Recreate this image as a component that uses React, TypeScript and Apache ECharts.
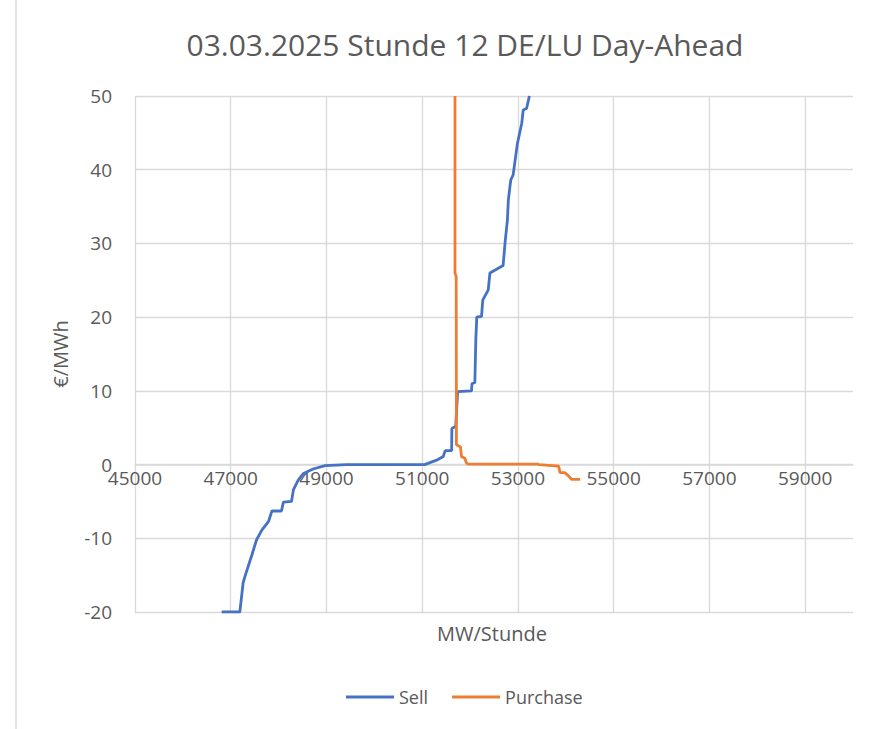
import React, { useEffect, useRef } from "react";
import * as echarts from "echarts";

const TITLE = "03.03.2025 Stunde 12 DE/LU Day-Ahead";
const X_NAME = "MW/Stunde";
const Y_NAME = "€/MWh";

// Sell curve: [MW, €/MWh]
const sellMW = [46810, 47190, 47260, 47330, 47440, 47540, 47650, 47790, 47860, 48060, 48100, 48270, 48310, 48410, 48520, 48720, 48970, 49420, 51050, 51300, 51440, 51480, 51615, 51620, 51665, 51700, 51740, 52030, 52040, 52100, 52120, 52140, 52240, 52265, 52380, 52415, 52690, 52730, 52780, 52800, 52850, 52900, 52990, 53080, 53110, 53180, 53240];
const sellPrice = [-20, -20, -16, -14.5, -12.3, -10.2, -8.9, -7.7, -6.3, -6.3, -5.1, -5.0, -3.4, -2.1, -1.2, -0.6, -0.15, 0, 0, 0.6, 1.1, 1.9, 1.9, 4.9, 5.05, 5.2, 9.9, 10.0, 11.0, 11.1, 16.9, 20.0, 20.1, 22.3, 23.7, 26.0, 27.0, 30.0, 33.2, 35.9, 38.6, 39.3, 43.6, 46.3, 48.1, 48.3, 50];

// Purchase curve: [MW, €/MWh]
const buyMW = [51685, 51685, 51710, 51715, 51800, 51820, 51890, 51925, 51960, 53420, 53440, 53850, 53880, 53980, 54050, 54120, 54300];
const buyPrice = [50, 26, 25.5, 2.7, 2.4, 1.1, 0.85, 0.2, 0.05, 0.05, 0, -0.2, -1.1, -1.1, -1.5, -2.0, -2.0];

const X_MIN = 45000;
const X_MAX = 60000;
const X_STEP = 2000;
const Y_MIN = -20;
const Y_MAX = 50;
const Y_STEP = 10;

const FONT = "'Open Sans', sans-serif";
const TEXT = "#595959";
const GRID = "#D9D9D9";

// plot box
const G_LEFT = 135;
const G_RIGHT = 41;
const G_TOP = 96;
const G_BOTTOM = 117;
const W = 894;
const H = 729;

export default function App() {
  const ref = useRef<HTMLDivElement>(null);
  useEffect(() => {
    if (!ref.current) return;
    const chart = echarts.init(ref.current, undefined, { renderer: "svg" });
    const sell = sellMW.map((x, i) => [x, sellPrice[i]]);
    const buy = buyMW.map((x, i) => [x, buyPrice[i]]);
    const plotH = H - G_TOP - G_BOTTOM;
    const zeroY = G_TOP + ((Y_MAX - 0) / (Y_MAX - Y_MIN)) * plotH;
    chart.setOption({
      animation: false,
      backgroundColor: "#ffffff",
      title: {
        text: TITLE,
        left: 460,
        top: 24,
        textAlign: "center",
        textStyle: { fontFamily: FONT, fontSize: 30, fontWeight: "normal", color: TEXT },
      },
      legend: {
        bottom: 18,
        left: 341,
        icon: "rect",
        itemWidth: 48,
        itemHeight: 3,
        itemGap: 24,
        textStyle: { fontFamily: FONT, fontSize: 18, color: TEXT },
        data: ["Sell", "Purchase"],
      },
      grid: [
        { left: G_LEFT, right: G_RIGHT, top: G_TOP, bottom: G_BOTTOM },
        { left: G_LEFT, right: G_RIGHT, top: G_TOP, bottom: H - zeroY },
      ],
      xAxis: [
        {
          type: "value",
          gridIndex: 0,
          min: X_MIN,
          max: X_MAX,
          interval: X_STEP,
          axisLine: { show: false },
          axisTick: { show: false },
          axisLabel: { show: false },
          splitLine: { show: true, showMaxLine: false, lineStyle: { color: GRID, width: 1.3 } },
        },
        {
          type: "value",
          gridIndex: 1,
          min: X_MIN,
          max: X_MAX,
          interval: X_STEP,
          axisLine: { show: true, lineStyle: { color: GRID, width: 1.5 } },
          axisTick: { show: false },
          splitLine: { show: false },
          axisLabel: {
            fontFamily: FONT,
            fontSize: 19,
            lineHeight: 14,
            color: TEXT,
            margin: 6,
            showMaxLabel: false,
            formatter: (v: number) => String(v),
          },
        },
      ],
      yAxis: [
        {
          type: "value",
          gridIndex: 0,
          min: Y_MIN,
          max: Y_MAX,
          interval: Y_STEP,
          name: Y_NAME,
          nameLocation: "middle",
          nameGap: 65,
          nameRotate: 90,
          nameTextStyle: { fontFamily: FONT, fontSize: 20, color: TEXT },
          axisLine: { show: false },
          axisTick: { show: false },
          axisLabel: { fontFamily: FONT, fontSize: 19, lineHeight: 12, color: TEXT, margin: 23 },
          splitLine: { show: true, lineStyle: { color: GRID, width: 1.3 } },
        },
        {
          type: "value",
          gridIndex: 1,
          min: 0,
          max: Y_MAX,
          show: false,
        },
      ],
      graphic: [
        {
          type: "text",
          x: 492,
          y: 633,
          style: {
            text: X_NAME,
            fill: TEXT,
            font: `20px ${FONT}`,
            align: "center",
            verticalAlign: "middle",
          },
        },
        {
          type: "line",
          shape: { x1: 16, y1: 0, x2: 16, y2: H },
          style: { stroke: GRID, lineWidth: 1.5 },
        },
      ],
      series: [
        {
          name: "Sell",
          type: "line",
          xAxisIndex: 0,
          yAxisIndex: 0,
          data: sell,
          symbol: "none",
          showSymbol: false,
          clip: true,
          lineStyle: { color: "#4472C4", width: 2.8 },
          itemStyle: { color: "#4472C4" },
          z: 3,
        },
        {
          name: "Purchase",
          type: "line",
          xAxisIndex: 0,
          yAxisIndex: 0,
          data: buy,
          symbol: "none",
          showSymbol: false,
          clip: true,
          lineStyle: { color: "#ED7D31", width: 2.8 },
          itemStyle: { color: "#ED7D31" },
          z: 4,
        },
      ],
    });
    return () => chart.dispose();
  }, []);
  return (
    <div
      ref={ref}
      style={{ position: "fixed", left: 0, top: 0, width: W, height: H }}
    />
  );
}
